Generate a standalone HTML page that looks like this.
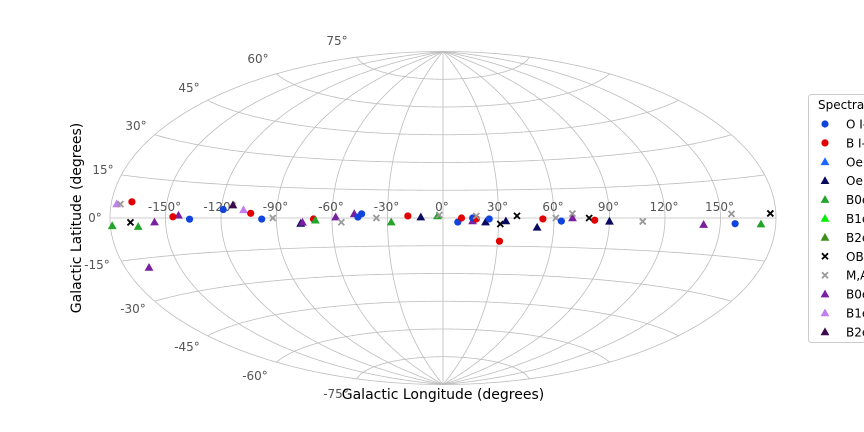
<!DOCTYPE html>
<html><head><meta charset="utf-8"><style>
html,body{margin:0;padding:0;background:#fff;overflow:hidden;width:864px;height:432px}
svg{display:block;font-family:"DejaVu Sans","Liberation Sans",sans-serif}
</style></head><body>
<svg id="chart" width="864" height="432" viewBox="0 0 864 432" xmlns="http://www.w3.org/2000/svg">
<g id="grid"></g>
<g id="labels"></g>
<g id="marks"></g>
<text x="443" y="399" font-size="14" text-anchor="middle" fill="#000">Galactic Longitude (degrees)</text>
<text transform="translate(81,218) rotate(-90)" font-size="14" text-anchor="middle" fill="#000">Galactic Latitude (degrees)</text>
<g id="legend"></g>
</svg>
<script>
const categories=["O I-V","B I-V","Oe (IR)","Oe (opt)","B0e (IR)","B1e (IR)","B2e (IR)","OB","M,A,F","B0e (opt)","B1e (opt)","B2e (opt)"];
const colors=["#1144dd","#e30000","#1a66ff","#0a0a60","#22a52a","#00ee00","#3d8f1a","#000000","#999999","#7a1f9f","#c07ef0","#3c0a4c"];
const shapes=["o","o","^","^","^","^","^","x","x","^","^","^"];
const pointLon=[-177,-175,-169,-179,-169,-165,-156,-143,-146,-137,-119,-114,-108,-104,-98,-92,-77,-76,-70,-69,-58,-55,-48,-46,-44,-36,-28,-19,-12,-3,-2,8,10,16,16,18,18,23,25,31,34,31,40,51,54,61,64,70,70,79,82,90,108,141,156,158,172,177,-167];
const pointLat=[4.9,4.9,5.9,-2.7,-1.6,-3.2,-1.6,1.1,0.5,-0.5,3.8,5.9,3.8,2.2,-0.5,0,-2.7,-2.2,-0.5,-1.1,0.5,-2.2,2.2,0.5,2.2,0,-2.2,1.1,0.5,1.1,1.6,-2.2,0,-1.6,0,-0.5,1.1,-2.2,-0.5,-3.2,-1.6,-12.4,1.1,-4.9,-0.5,0,-1.6,0,2.2,0,-1.1,-1.6,-1.6,-2.7,1.6,-2.2,-2.2,1.6,-18.5];
const pointCat=[10,8,1,4,7,4,9,9,1,0,0,11,10,1,0,8,3,9,1,4,9,8,9,0,0,8,4,1,3,4,8,0,1,9,0,1,8,3,0,7,3,1,7,3,1,8,0,9,8,7,1,3,8,9,8,0,4,7,9];
const lonTicks=[-150,-120,-90,-60,-30,0,30,60,90,120,150];
const latTicks=[-75,-60,-45,-30,-15,0,15,30,45,60,75];
const latLabelPos=[[336,394],[255,376],[187,347],[133,309],[97,265],[95,218],[103,170],[136,126],[189,88],[258,59],[337,41]];

const NS="http://www.w3.org/2000/svg";
const CX=443,CY=218,A=333,B=166.5;
function proj(lon,lat){
  const l=lon*Math.PI/180,p=lat*Math.PI/180;
  const al=Math.acos(Math.cos(p)*Math.cos(l/2));
  const s=al===0?1:Math.sin(al)/al;
  const x=2*Math.cos(p)*Math.sin(l/2)/s, y=Math.sin(p)/s;
  return [CX+x*A/Math.PI, CY-y*B/(Math.PI/2)];
}
function el(t,a,parent){const e=document.createElementNS(NS,t);for(const k in a)e.setAttribute(k,a[k]);parent.appendChild(e);return e;}
const grid=document.getElementById('grid');
function line(pts,name){
  const d=pts.map((q,i)=>(i?'L':'M')+q[0].toFixed(2)+' '+q[1].toFixed(2)).join(' ');
  const e=el('path',{d:d,fill:'none',stroke:'#bdbdbd','stroke-width':0.8},grid);
  
  
}
lonTicks.forEach(L=>{const pts=[];for(let p=-90;p<=90;p+=1)pts.push(proj(L,p));line(pts,'meridian-'+L);});
latTicks.forEach(P=>{const pts=[];for(let l=-180;l<=180;l+=2)pts.push(proj(l,P));line(pts,'parallel-'+P);});
{const pts=[];for(let p=-90;p<=90;p+=1)pts.push(proj(180,p));for(let p=90;p>=-90;p-=1)pts.push(proj(-180,p));line(pts,'map-boundary');}
const labels=document.getElementById('labels');
lonTicks.forEach(L=>{const q=proj(L,0);const t=el('text',{x:q[0]-1,y:211,'font-size':12,'text-anchor':'middle',fill:'#555'},labels);t.textContent=L+'°';
  
  });
latTicks.forEach((P,i)=>{const q=latLabelPos[i];const t=el('text',{x:q[0],y:q[1]+4,'font-size':12,'text-anchor':'middle',fill:'#555'},labels);t.textContent=P+'°';
  
  });
function marker(parent,shape,color,x,y){
  let e;
  if(shape==='o')e=el('circle',{cx:x,cy:y,r:3.6,fill:color},parent);
  else if(shape==='^')e=el('path',{d:`M${x} ${y-4.5}L${x+4.4} ${y+3.3}L${x-4.4} ${y+3.3}Z`,fill:color},parent);
  else e=el('path',{d:`M${x-3} ${y-3}L${x+3} ${y+3}M${x-3} ${y+3}L${x+3} ${y-3}`,stroke:color,'stroke-width':1.8,fill:'none'},parent);
  return e;
}
const marks=document.getElementById('marks');
pointLon.forEach((L,i)=>{const q=proj(L,pointLat[i]);const c=pointCat[i];
  const e=marker(marks,shapes[c],colors[c],q[0],q[1]);
  
  });
const lg=document.getElementById('legend');
const box=el('rect',{x:808.5,y:94.5,width:80,height:248,rx:3,fill:'#fff',stroke:'#ccc','stroke-width':1},lg);


const tt=el('text',{x:818,y:109,'font-size':12,fill:'#000'},lg);tt.textContent='Spectral type';


categories.forEach((c,i)=>{const y=124+i*18.9;
  const g=el('g',{},lg);
  
  
  marker(g,shapes[i],colors[i],825,y);
  const t=el('text',{x:846,y:y+4.5,'font-size':12,fill:'#000'},g);t.textContent=c;});
</script>
</body></html>
